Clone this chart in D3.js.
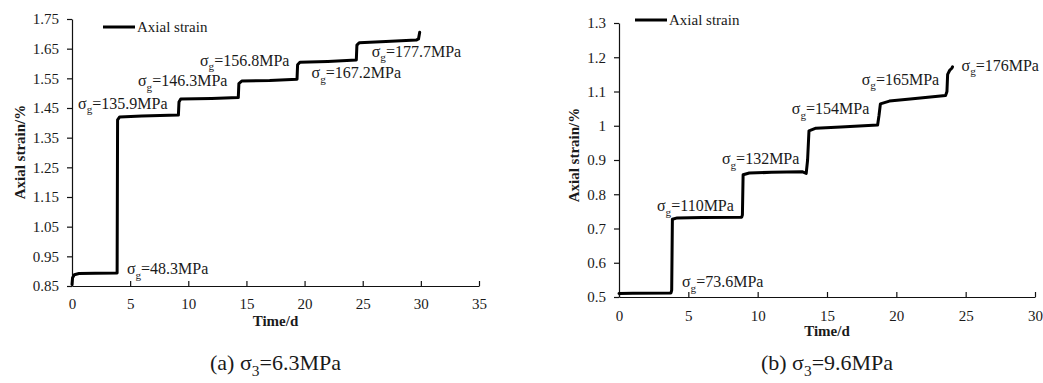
<!DOCTYPE html>
<html>
<head>
<meta charset="utf-8">
<title>Axial strain under graded loading</title>
<script src="https://cdn.jsdelivr.net/npm/d3@7"></script>
<style>
body { margin: 0; background: #fff; }
svg text { font-family: "Liberation Serif", "Times New Roman", serif; fill: #1a1a1a; }
.axis path, .axis line { stroke: #111; stroke-width: 1.2; }
.axis text { font-size: 15px; }
</style>
</head>
<body>
<svg id="chart" width="1043" height="383"></svg>
<script>
// (a) sigma3 = 6.3MPa
var timeA   = [0, 0.05, 0.2, 0.6, 2, 3.88, 3.92, 4.1, 6, 9.15, 9.2, 9.35, 12, 14.3, 14.35, 14.6, 17, 19.35, 19.4, 19.6, 22, 24.45, 24.5, 24.7, 27, 29.6, 29.8, 29.9];
var strainA = [0.855, 0.878, 0.888, 0.892, 0.893, 0.894, 1.41, 1.42, 1.423, 1.426, 1.47, 1.48, 1.482, 1.485, 1.532, 1.541, 1.543, 1.547, 1.596, 1.604, 1.607, 1.612, 1.662, 1.67, 1.674, 1.679, 1.683, 1.705];
var stressA     = ["48.3", "135.9", "146.3", "156.8", "167.2", "177.7"];
var stressTimeA = [4.72, 0.52, 5.67, 11.0, 20.6, 25.77];
var stressStrA  = [0.89, 1.447, 1.524, 1.592, 1.551, 1.622];
var xTicksA = [0, 5, 10, 15, 20, 25, 30, 35];
var yTicksA = [0.85, 0.95, 1.05, 1.15, 1.25, 1.35, 1.45, 1.55, 1.65, 1.75];
var yLabelsA = ["0.85", "0.95", "1.05", "1.15", "1.25", "1.35", "1.45", "1.55", "1.65", "1.75"];

// (b) sigma3 = 9.6MPa
var timeB   = [0, 1, 3.75, 3.8, 3.85, 4.2, 6, 8.85, 8.9, 8.95, 9.4, 11, 13.2, 13.5, 13.6, 13.7, 14.2, 16, 18.65, 18.75, 18.85, 19.5, 21, 23.55, 23.65, 23.7, 23.85, 24.0, 24.05];
var strainB = [0.51, 0.511, 0.512, 0.52, 0.727, 0.731, 0.732, 0.733, 0.74, 0.857, 0.862, 0.864, 0.866, 0.861, 0.9, 0.985, 0.993, 0.996, 1.002, 1.03, 1.064, 1.072, 1.078, 1.088, 1.1, 1.15, 1.162, 1.168, 1.172];
var stressB     = ["73.6", "110", "132", "154", "165", "176"];
var stressTimeB = [4.54, 2.74, 7.42, 12.46, 17.5, 24.7];
var stressStrB  = [0.529, 0.751, 0.888, 1.034, 1.119, 1.161];
var xTicksB = [0, 5, 10, 15, 20, 25, 30];
var yTicksB = [0.5, 0.6, 0.7, 0.8, 0.9, 1, 1.1, 1.2, 1.3];
var yLabelsB = ["0.5", "0.6", "0.7", "0.8", "0.9", "1", "1.1", "1.2", "1.3"];

var seriesName = "Axial strain";
var xTitle = "Time/d";
var yTitle = "Axial strain/%";

var svg = d3.select("#chart");

// sigma with a subscript, e.g. σg=110MPa
function sigmaText(g, x, y, size, prefix, sub, rest) {
  var t = g.append("text").attr("x", x).attr("y", y).style("font-size", size + "px");
  if (prefix) t.append("tspan").text(prefix);
  t.append("tspan").text("σ");
  t.append("tspan").attr("dy", size * 0.28).style("font-size", (size * 0.7) + "px").text(sub);
  t.append("tspan").attr("dy", -size * 0.28).text(rest);
  return t;
}

function drawPanel(p) {
  var x = d3.scaleLinear().domain([p.xTicks[0], p.xTicks[p.xTicks.length - 1]]).range(p.xr);
  var y = d3.scaleLinear().domain([p.yTicks[0], p.yTicks[p.yTicks.length - 1]]).range(p.yr);
  var g = svg.append("g");

  g.append("g")
    .attr("class", "axis")
    .attr("transform", "translate(0," + p.yr[0] + ")")
    .call(d3.axisBottom(x).tickValues(p.xTicks).tickSizeInner(-5).tickSizeOuter(0).tickPadding(p.xPad));

  g.append("g")
    .attr("class", "axis")
    .attr("transform", "translate(" + p.xr[0] + ",0)")
    .call(d3.axisLeft(y).tickValues(p.yTicks).tickSizeInner(5).tickSizeOuter(0).tickPadding(8)
      .tickFormat(function(d, i) { return p.yLabels[i]; }));

  g.selectAll(".axis text").attr("fill", "#1a1a1a");

  var pts = p.time.map(function(t, i) { return [t, p.strain[i]]; });
  g.append("path")
    .datum(pts)
    .attr("fill", "none")
    .attr("stroke", "#000")
    .attr("stroke-width", 3)
    .attr("stroke-linejoin", "round")
    .attr("stroke-linecap", "round")
    .attr("d", d3.line().x(function(d) { return x(d[0]); }).y(function(d) { return y(d[1]); }));

  for (var i = 0; i < p.stress.length; i++) {
    sigmaText(g, x(p.stressTime[i]), y(p.stressStr[i]), 16, "", "g", "=" + p.stress[i] + "MPa");
  }

  // legend
  g.append("line")
    .attr("x1", p.legend[0]).attr("x2", p.legend[0] + 32)
    .attr("y1", p.legend[1]).attr("y2", p.legend[1])
    .attr("stroke", "#000").attr("stroke-width", 3);
  g.append("text")
    .attr("x", p.legend[0] + 34).attr("y", p.legend[1] + 5)
    .style("font-size", "15px")
    .text(seriesName);

  g.append("text")
    .attr("x", (p.xr[0] + p.xr[1]) / 2).attr("y", p.xTitleY)
    .attr("text-anchor", "middle")
    .style("font-size", "15px").style("font-weight", "bold")
    .text(xTitle);

  g.append("text")
    .attr("transform", "translate(" + p.yTitle[0] + "," + p.yTitle[1] + ") rotate(-90)")
    .attr("text-anchor", "middle")
    .style("font-size", "15px").style("font-weight", "bold")
    .text(yTitle);

  sigmaText(g, (p.xr[0] + p.xr[1]) / 2, 370, 22, p.caption[0], "3", p.caption[1])
    .attr("text-anchor", "middle");
}

drawPanel({
  time: timeA, strain: strainA, stress: stressA, stressTime: stressTimeA, stressStr: stressStrA,
  xTicks: xTicksA, yTicks: yTicksA, yLabels: yLabelsA,
  xr: [72, 479], yr: [286, 19], xPad: 12,
  legend: [103, 27], xTitleY: 326, yTitle: [25, 152],
  caption: ["(a) ", "=6.3MPa"]
});

drawPanel({
  time: timeB, strain: strainB, stress: stressB, stressTime: stressTimeB, stressStr: stressStrB,
  xTicks: xTicksB, yTicks: yTicksB, yLabels: yLabelsB,
  xr: [619, 1035], yr: [297, 23], xPad: 13,
  legend: [635, 20], xTitleY: 336, yTitle: [579, 155],
  caption: ["(b) ", "=9.6MPa"]
});
</script>
</body>
</html>
